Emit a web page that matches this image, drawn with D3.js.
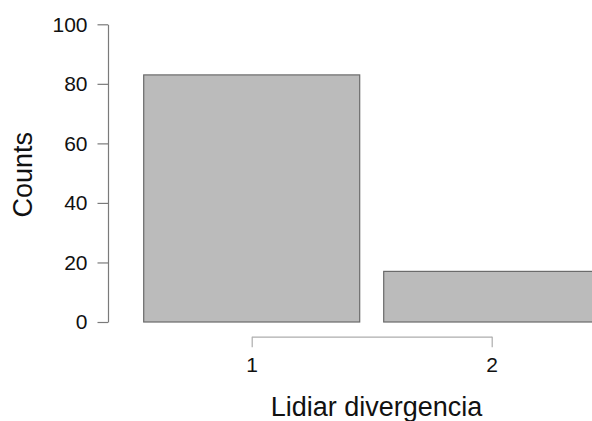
<!DOCTYPE html>
<html>
<head>
<meta charset="utf-8">
<script src="https://cdn.jsdelivr.net/npm/d3@7"></script>
<style>
  html, body { margin: 0; padding: 0; background: #fff; }
  svg { display: block; }
  text { font-family: "Liberation Sans", Arial, Helvetica, sans-serif; fill: #111; }
</style>
</head>
<body>
<svg id="chart" width="592" height="421"></svg>
<script>
const categories = [1, 2];
const counts = [83, 17];
const yTicks = [0, 20, 40, 60, 80, 100];
const xLabel = "Lidiar divergencia";
const yLabel = "Counts";

const svg = d3.select("#chart");

const x = d3.scaleLinear().domain([1, 2]).range([251.7, 491.7]);
const y = d3.scaleLinear().domain([0, 100]).range([322, 24.3]);
const barHalf = 0.45;

// bars
svg.append("g").selectAll("rect")
  .data(categories.map((c, i) => ({ c, v: counts[i] })))
  .join("rect")
  .attr("x", d => x(d.c - barHalf))
  .attr("width", d => x(d.c + barHalf) - x(d.c - barHalf))
  .attr("y", d => y(d.v))
  .attr("height", d => y(0) - y(d.v))
  .attr("fill", "#bbbbbb")
  .attr("stroke", "#6a6a6a")
  .attr("stroke-width", 1.2);

// y axis
const yAxis = svg.append("g")
  .attr("transform", "translate(108,0)")
  .attr("font-size", 21)
  .call(d3.axisLeft(y).tickValues(yTicks).tickSize(10.5).tickSizeOuter(0).tickPadding(10));
yAxis.attr("font-size", 21).attr("font-family", "Liberation Sans, Arial, sans-serif");
yAxis.select(".domain").attr("stroke", "#7a7a7a").attr("stroke-width", 1.2);
yAxis.selectAll(".tick line").attr("stroke", "#7a7a7a").attr("stroke-width", 1.2);
yAxis.selectAll(".tick text").attr("font-size", 21).attr("fill", "#111");

// x axis
const xAxis = svg.append("g")
  .attr("transform", "translate(0,336.7)")
  .call(d3.axisBottom(x).tickValues(categories).tickFormat(d3.format("d")).tickSize(10.5).tickSizeOuter(0).tickPadding(10));
xAxis.attr("font-size", 21).attr("font-family", "Liberation Sans, Arial, sans-serif");
xAxis.select(".domain").attr("stroke", "#adadad").attr("stroke-width", 1.2);
xAxis.selectAll(".tick line").attr("stroke", "#adadad").attr("stroke-width", 1.2);
xAxis.selectAll(".tick text").attr("font-size", 21).attr("fill", "#111");

// axis titles
svg.append("text")
  .attr("x", 376.5)
  .attr("y", 416)
  .attr("text-anchor", "middle")
  .attr("font-size", 27)
  .text(xLabel);

svg.append("text")
  .attr("transform", "translate(32,174.7) rotate(-90)")
  .attr("text-anchor", "middle")
  .attr("font-size", 27)
  .text(yLabel);
</script>
</body>
</html>
